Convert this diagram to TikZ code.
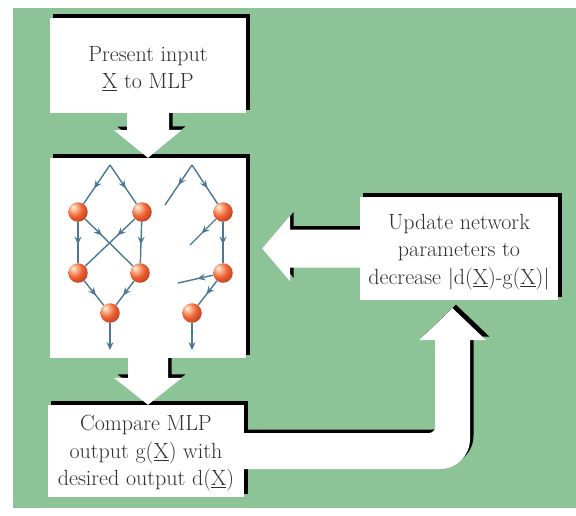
\documentclass[tikz,border=0pt]{standalone}
\usetikzlibrary{calc,arrows.meta,decorations.markings}
\definecolor{bggreen}{RGB}{141,196,151}
\definecolor{inkgray}{RGB}{48,48,48}
\definecolor{linkblue}{RGB}{74,120,150}
\definecolor{orbhi}{RGB}{255,205,170}
\definecolor{orbmid}{RGB}{238,98,52}
\definecolor{orbedge}{RGB}{165,42,22}
\pgfdeclareradialshading{orb}{\pgfpoint{-13bp}{13bp}}{%
  color(0bp)=(white); color(5bp)=(orbhi); color(20bp)=(orbmid);
  color(42bp)=(orbedge); color(70bp)=(orbedge)}
\pgfdeclarelayer{paper}
\pgfdeclarelayer{shade}
\pgfsetlayers{paper,shade,main}

% block-arrow outlines, built on named coordinates
\newcommand\arrowInto{($(a1s)+(-21,0)$) -- ($(a1s)+(-21,17)$) -- ($(a1s)+(-34,17)$) -- (a1t)
  -- ($(a1t)+(34,-28)$) -- ($(a1t)+(21,-28)$) -- ($(a1s)+(21,0)$) -- cycle}
\newcommand\arrowOut{($(a2s)+(-20,0)$) -- ($(a2t)+(-20,-27)$) -- ($(a2t)+(-34,-27)$) -- (a2t)
  -- ($(a2t)+(34,-27)$) -- ($(a2t)+(20,-27)$) -- ($(a2s)+(20,0)$) -- cycle}
\newcommand\arrowBack{($(a3s)+(0,-19)$) -- ($(a3t)+(28,-19)$) -- ($(a3t)+(28,-33)$) -- (a3t)
  -- ($(a3t)+(28,33)$) -- ($(a3t)+(28,19)$) -- ($(a3s)+(0,19)$) -- cycle}
\newcommand\arrowLoop{($(a4s)+(-4,-18)$) -- ($(a4k)+(-23.5,-18)$)
  .. controls ($(a4k)+(-20.2,-18)$) and ($(a4k)+(-17.5,-20.7)$) .. ($(a4k)+(-17.5,-24)$)
  -- ($(a4t)+(-17.5,32)$) -- ($(a4t)+(-33.5,32)$) -- (a4t) -- ($(a4t)+(33.5,32)$)
  -- ($(a4t)+(17.5,32)$) -- ($(a4k)+(17.5,-12)$)
  .. controls ($(a4k)+(17.5,4.6)$) and ($(a4k)+(4.1,18)$) .. ($(a4k)+(-12.5,18)$)
  -- ($(a4s)+(-4,18)$) -- cycle}

\begin{document}
\begin{tikzpicture}[x=1pt,y=-1pt,
  card/.style={fill=white, inner sep=0pt},
  caption/.style={inner sep=0pt, align=center, text=inkgray,
    font=\fontsize{22}{27.5}\selectfont},
  unit/.style={circle, inner sep=0pt, minimum size=19.5pt, shading=orb},
  link/.style={draw=linkblue, line width=1.4pt},
  tipend/.style={-{Stealth[length=8pt,width=7pt,inset=3pt]}},
  midtip/.style={postaction={decorate}, decoration={markings,
    mark=at position #1 with {\arrow[linkblue]{Stealth[length=8pt,width=7pt,inset=3pt]}}}},
]
\useasboundingbox (0,0) rectangle (576,515);

\begin{pgfonlayer}{paper}
  \fill[white] (0,0) rectangle (576,515);
  \fill[bggreen] (13,8) rectangle (576,508);
\end{pgfonlayer}

% the four boxes
\node[card, minimum width=196pt, minimum height=95pt] (present) at (148,65.5) {};
\node[card, minimum width=196pt, minimum height=200pt] (mlp) at (148,258) {};
\node[card, minimum width=196pt, minimum height=92pt] (compare) at (146,451) {};
\node[card, minimum width=198pt, minimum height=103pt] (update) at (459,248.5) {};

\node[caption] (presentText) at ($(present.center)+(0,3)$)
  {Present input\\\underline{X} to MLP};
\node[caption] (compareText) at ($(compare.center)+(0,2.5)$)
  {Compare MLP\\output g(\underline{X}) with\\desired output d(\underline{X})};
\node[caption] (updateText) at ($(update.center)+(0,3.5)$)
  {Update network\\parameters to\\decrease \textbar d(\underline{X})-g(\underline{X})\textbar};

% ends of the block arrows
\coordinate (a1s) at (present.south);
\coordinate (a1t) at (mlp.north);
\coordinate (a2s) at (mlp.south);
\coordinate (a2t) at (mlp.south |- compare.north);
\coordinate (a3s) at (update.west);
\coordinate (a3t) at ($(mlp.east |- update.west)+(16,0)$);
\coordinate (a4s) at (compare.east);
\coordinate (a4t) at ($(update.south)+(-6.5,8)$);
\coordinate (a4k) at (a4t |- compare.east);

\fill[white] \arrowInto;
\fill[white] \arrowOut;
\fill[white] \arrowBack;
\fill[white] \arrowLoop;

% black shadows, offset up and to the right
\begin{pgfonlayer}{shade}
\begin{scope}[transform canvas={xshift=3.5pt,yshift=3.5pt}]
  \fill[black] (present.north west) rectangle (present.south east);
  \fill[black] (mlp.north west) rectangle (mlp.south east);
  \fill[black] (compare.north west) rectangle (compare.south east);
  \fill[black] (update.north west) rectangle (update.south east);
  \fill[black] \arrowInto;
  \fill[black] \arrowOut;
  \fill[black] \arrowBack;
  \fill[black] \arrowLoop;
\end{scope}
\end{pgfonlayer}

% full network
\node[unit] (u1) at (78,212) {};
\node[unit] (u2) at (142,212) {};
\node[unit] (u3) at (78,273) {};
\node[unit] (u4) at (140,273) {};
\node[unit] (u5) at (110,313) {};
\coordinate (in1) at (110,165);
\coordinate (out1) at (110,350);
\draw[link, midtip=0.6] (in1) -- (u1);
\draw[link, midtip=0.6] (in1) -- (u2);
\draw[link, midtip=0.55] (u1) -- (u3);
\draw[link, midtip=0.55] (u2) -- (u4);
\draw[link, midtip=0.35] (u1) -- (u4);
\draw[link, midtip=0.35] (u2) -- (u3);
\draw[link, midtip=0.6] (u3) -- (u5);
\draw[link, midtip=0.6] (u4) -- (u5);
\draw[link, tipend] (u5) -- (out1);

% pruned network
\node[unit] (v1) at (223,212) {};
\node[unit] (v2) at (223,273) {};
\node[unit] (v3) at (192,313) {};
\coordinate (in2) at (192,165);
\coordinate (out2) at (192,350);
\coordinate (cut1) at (165,205);
\coordinate (cut2) at (190,245);
\coordinate (cut3) at (178,283);
\draw[link, midtip=0.6] (in2) -- (v1);
\draw[link, midtip=0.5] (in2) -- (cut1);
\draw[link, midtip=0.55] (v1) -- (cut2);
\draw[link, midtip=0.55] (v1) -- (v2);
\draw[link, midtip=0.45] (v2) -- (cut3);
\draw[link, midtip=0.55] (v2) -- (v3);
\draw[link, tipend] (v3) -- (out2);
\end{tikzpicture}
\end{document}
